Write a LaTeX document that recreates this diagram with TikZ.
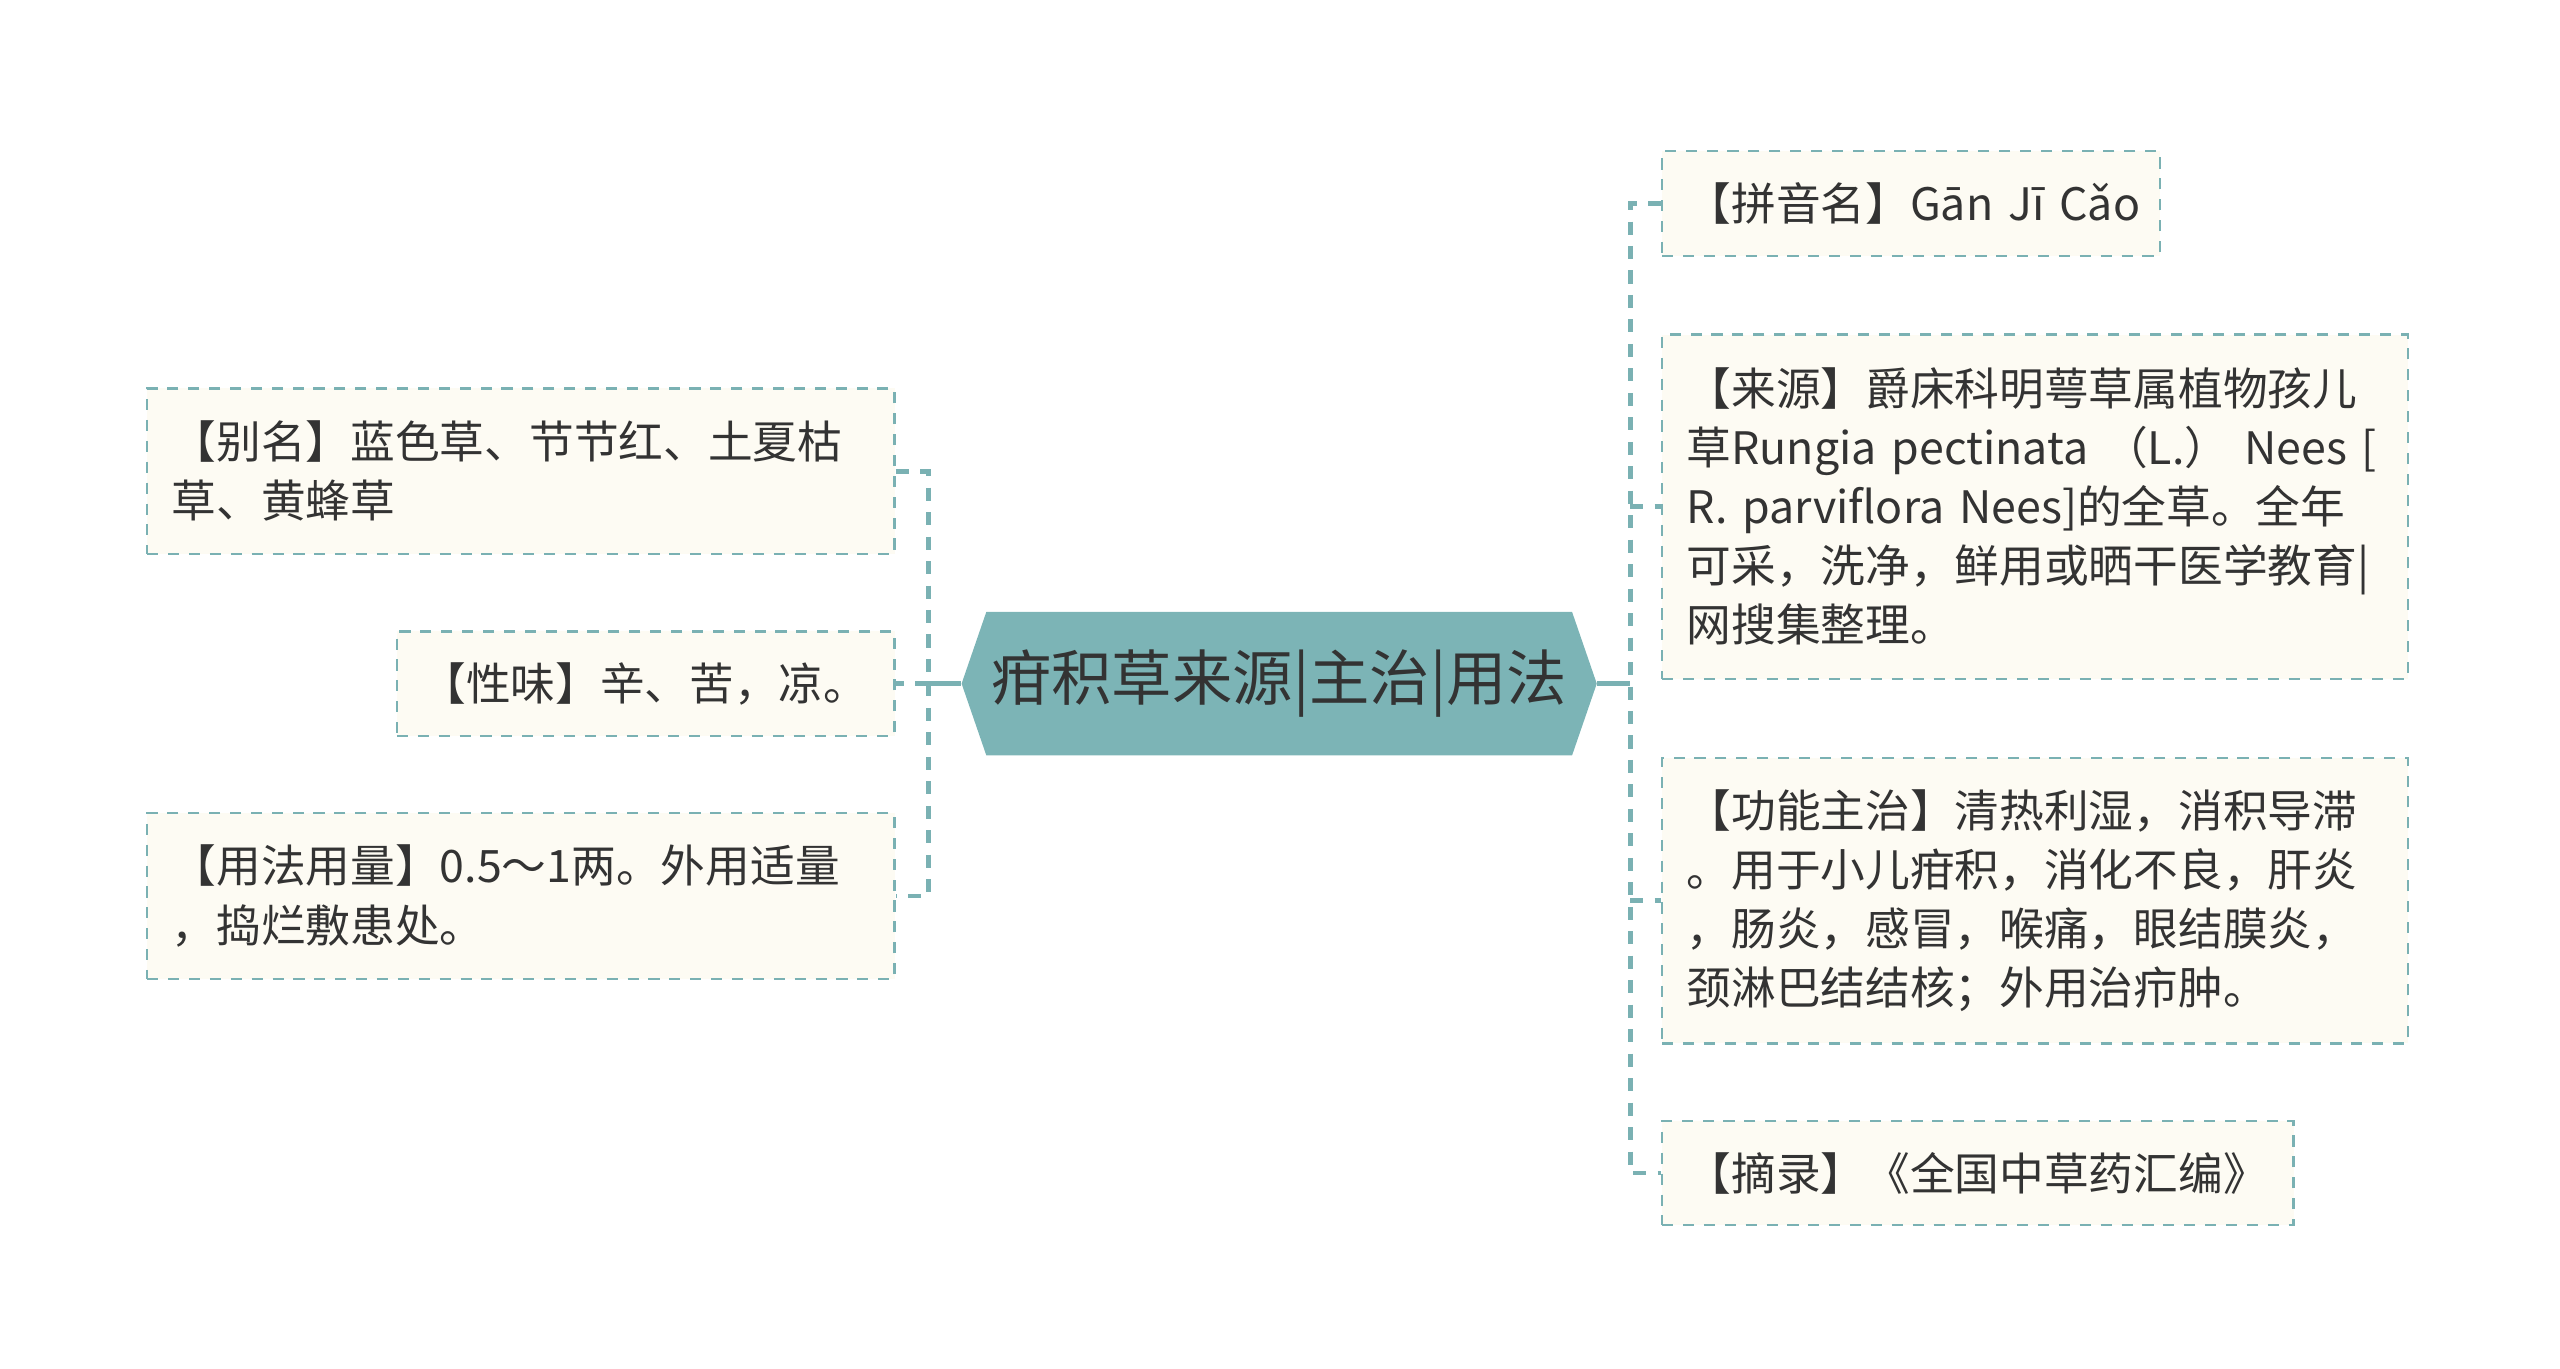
\documentclass[tikz,border=0pt]{standalone}
\usepackage{fontspec}
\setmainfont{Noto Sans CJK SC}
\usepackage{tikz}
\usetikzlibrary{positioning, shapes.symbols}
\definecolor{lijnkleur}{RGB}{122,177,179}
\definecolor{kopkleur}{RGB}{124,180,182}
\definecolor{blokkleur}{RGB}{253,251,243}
\definecolor{tekstkleur}{RGB}{51,51,51}
\tikzset{
  % De basis voor alle blokjes
  blok/.style={%
    draw=lijnkleur,
    line width=0.7pt,
    dash pattern=on 3.4pt off 3pt,
    fill=blokkleur,
    text=tekstkleur,
    align=left,
    inner xsep=7.5pt,
    inner ysep=0pt,
    font=\fontsize{13.7pt}{18.1pt}\selectfont
  },
  % Hoogte per aantal regels
  een/.style={blok, minimum height=32pt},
  twee/.style={blok, minimum height=50.75pt},
  vier/.style={blok, minimum height=87.5pt},
  vijf/.style={blok, minimum height=105.5pt},
  % Het middelste blok (zeshoek)
  kop/.style={%
    shape=signal,
    signal to=west and east,
    signal pointer angle=142,
    fill=kopkleur,
    text=tekstkleur,
    minimum height=44pt,
    inner xsep=1.5pt,
    font=\fontsize{18.5pt}{22pt}\selectfont
  },
  % Verbindingen
  stam/.style={draw=lijnkleur, line width=1.5pt},
  tak/.style={stam, dash pattern=on 4pt off 3.5pt}
}
\begin{document}
\begin{tikzpicture}[x=0.5pt, y=-0.5pt]
  \useasboundingbox (0,0) rectangle (1569,839);

  % --- MIDDEN ---
  \node [kop] (hoofd) at (784,419) {疳积草来源|主治|用法};

  % --- LINKS ---
  \node [een, text width=137.5pt, left=20pt of hoofd.west] (xingwei)
    {【性味】辛、苦，凉。};
  \node [twee, text width=214pt, above=23pt of xingwei.north east, anchor=south east] (bieming)
    {【别名】蓝色草、节节红、土夏枯\\草、黄蜂草};
  \node [twee, text width=214pt, below=23pt of xingwei.south east, anchor=north east] (yongfa)
    {【用法用量】0.5～1两。外用适量\\，捣烂敷患处。};

  % --- RECHTS ---
  \node [een, text width=137.5pt, anchor=north west] (pinyin) at (1018,92)
    {【拼音名】Gān~Jī~Cǎo};
  \node [vijf, text width=213.5pt, below=23.5pt of pinyin.south west, anchor=north west] (laiyuan)
    {【来源】爵床科明萼草属植物孩儿\\草Rungia pectinata （L.） Nees [\\R. parviflora Nees]的全草。全年\\可采，洗净，鲜用或晒干医学教育|\\网搜集整理。};
  \node [vier, text width=213.5pt, below=23.5pt of laiyuan.south west, anchor=north west] (gongneng)
    {【功能主治】清热利湿，消积导滞\\。用于小儿疳积，消化不良，肝炎\\，肠炎，感冒，喉痛，眼结膜炎，\\颈淋巴结结核；外用治疖肿。};
  \node [een, text width=178.5pt, below=23pt of gongneng.south west, anchor=north west] (zhailu)
    {【摘录】《全国中草药汇编》};

  % --- VERBINDINGEN ---
  \coordinate [left=10pt of hoofd.west] (lk);
  \coordinate [right=10pt of hoofd.east] (rk);
  \draw [stam] (hoofd.west) -- (lk);
  \draw [stam] (hoofd.east) -- (rk);
  \draw [tak] (bieming.east) -| (lk) |- (yongfa.east);
  \draw [tak] (lk) -- (xingwei.east);
  \draw [tak] (pinyin.west) -| (rk) |- (zhailu.west);
  \draw [tak] (rk |- laiyuan.west) -- (laiyuan.west);
  \draw [tak] (rk |- gongneng.west) -- (gongneng.west);

\end{tikzpicture}
\end{document}
